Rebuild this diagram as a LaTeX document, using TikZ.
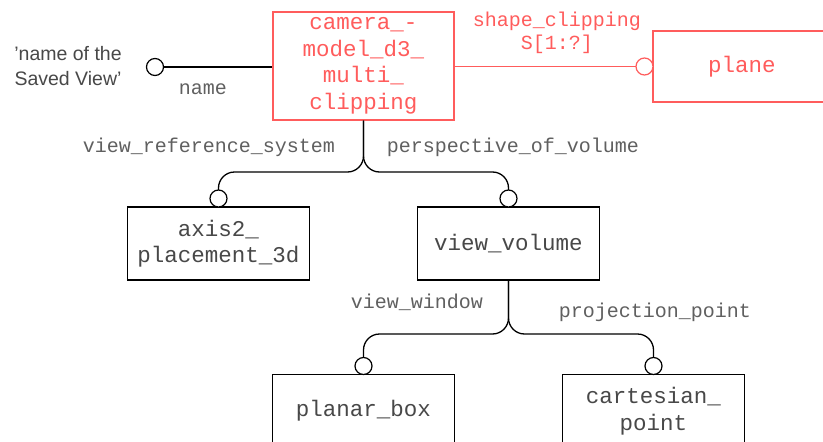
\documentclass[tikz,border=0pt]{standalone}
\usepackage{fontspec}
\setmainfont{Liberation Sans}
\newfontfamily\monofam{Liberation Mono}
\definecolor{redline}{HTML}{FF5C5C}
\definecolor{lblgray}{HTML}{606060}
\definecolor{boxtext}{HTML}{484848}
\begin{document}
\begin{tikzpicture}[x=1pt,y=-1pt,
  ent/.style={draw, line width=1.3pt, inner sep=0pt, align=center,
    minimum width=182pt, minimum height=73pt,
    font=\monofam\fontsize{22.5}{26.5}\selectfont, text=boxtext},
  redent/.style={ent, draw=redline, text=redline},
  lbl/.style={font=\monofam\fontsize{20}{23}\selectfont, text=lblgray, inner sep=0pt, align=center},
  redlbl/.style={lbl, text=redline},
  ring/.style={circle, draw, line width=1.2pt, fill=white, minimum size=17pt, inner sep=0pt, outer sep=0pt},
  conn/.style={line width=1.3pt, rounded corners=16pt},
]
\clip (0,0) rectangle (823,442);
\fill[white] (0,0) rectangle (823,442);

% entities
\node[redent, minimum width=181pt, minimum height=108pt] (cam) at (363.5,66) {camera\_-\\model\_d3\_\\multi\_\\clipping};
\node[redent, minimum width=178pt, minimum height=71pt] (plane) at (742,66.5) {plane};
\node[ent] (axis) at (218.5,243.5) {axis2\_\\placement\_3d};
\node[ent] (vv) at (508.5,243.5) {view\_volume};
\node[ent] (pbox) at (363.5,411) {planar\_box};
\node[ent] (cp) at (653.5,411) {cartesian\_\\point};

% name attribute
\node[font=\fontsize{19.5}{25}\selectfont, text=boxtext, align=center, inner sep=0pt] (sv) at (68,66) {'name of the\\Saved View'};
\node[ring] (rname) at (155,67) {};
\draw[line width=1.3pt] (rname.east) -- (rname.east -| cam.west);
\node[lbl] (lname) at (203,89) {name};

% shape clipping
\node[ring, draw=redline] (rplane) at (644.5,66.5) {};
\draw[line width=1.3pt, draw=redline] (rplane.west -| cam.east) -- (rplane.west);
\node[redlbl] (lsc) at (557,21) {shape\_clipping};
\node[redlbl] (lsc2) at (557,44) {S[1:?]};

% branches from camera
\node[ring] (raxis) at (218.5,198.5) {};
\node[ring] (rvv) at (508.5,198.5) {};
\draw[conn] (cam.south) -- (cam.south |- 0,172) -| (raxis.north);
\draw[conn] (cam.south) -- (cam.south |- 0,172) -| (rvv.north);
\node[lbl] (lvrs) at (209,147) {view\_reference\_system};
\node[lbl] (lpov) at (513,147) {perspective\_of\_volume};

% branches from view_volume
\node[ring] (rpb) at (363.5,366) {};
\node[ring] (rcp) at (653.5,366) {};
\draw[conn] (vv.south) -- (vv.south |- 0,334) -| (rpb.north);
\draw[conn] (vv.south) -- (vv.south |- 0,334) -| (rcp.north);
\node[lbl] (lvw) at (417,302) {view\_window};
\node[lbl] (lpp) at (655,312) {projection\_point};
\end{tikzpicture}
\end{document}
